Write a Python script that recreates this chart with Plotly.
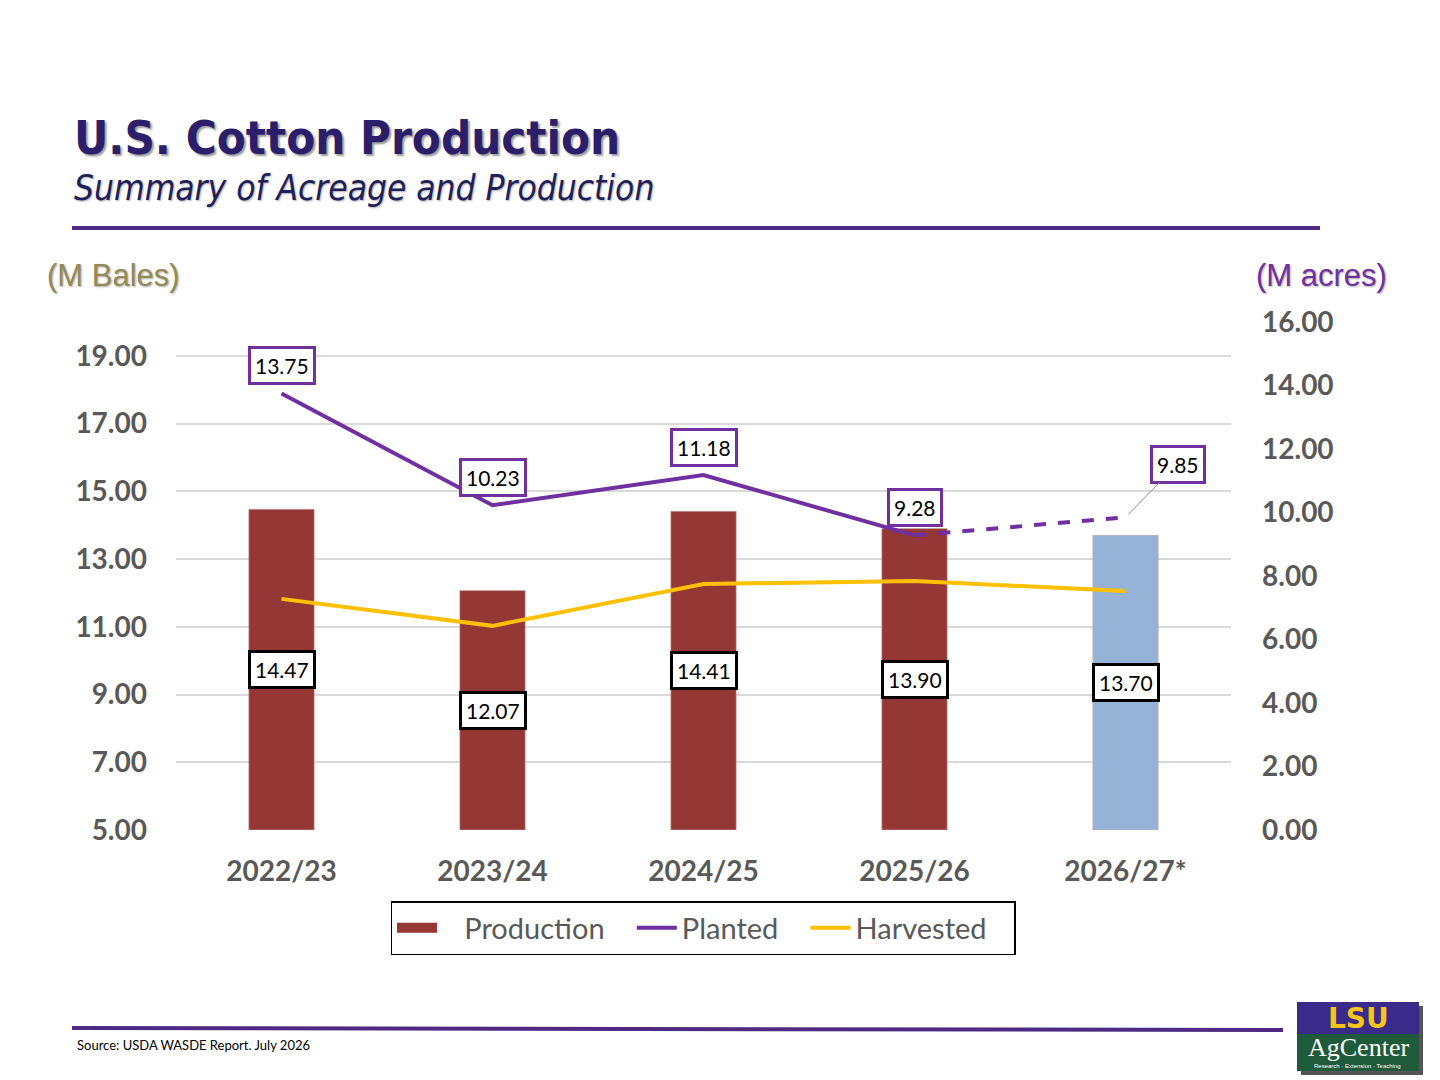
import plotly.graph_objects as go

categories = ["2022/23", "2023/24", "2024/25", "2025/26", "2026/27*"]
production = [14.47, 12.07, 14.41, 13.90, 13.70]
planted = [13.75, 10.23, 11.18, 9.28, 9.85]
harvested = [7.28, 6.43, 7.75, 7.84, 7.53]
left_ticks = [5, 7, 9, 11, 13, 15, 17, 19]
right_ticks = [0, 2, 4, 6, 8, 10, 12, 14, 16]

W, H = 1440, 1080
OFF = 8  # page body offset
RED = "#953735"
BLUE = "#95B3D7"
PURPLE = "#7030A0"
YELLOW = "#FFC000"
GRAY = "#595959"
NAVY = "#2B1F6B"
BASE = 5
NB = "\u00a0"

def px(x):
    return (x - OFF) / W

def py(y):
    return 1 - (y - OFF) / H

bar_colors = [RED] * (len(categories) - 1) + [BLUE]

fig = go.Figure()
fig.add_trace(go.Bar(
    x=categories, y=[v - BASE for v in production], base=BASE,
    name="Production", showlegend=False, legendgroup="prod",
    marker=dict(color=bar_colors, line=dict(color="rgba(200,170,170,0.6)", width=1)),
    width=0.31, yaxis="y", hoverinfo="skip",
))
# legend entry for the bars (wide rectangle swatch)
fig.add_trace(go.Scatter(
    x=[None], y=[None], name=NB * 3 + "Production" + NB * 3, mode="lines", legendgroup="prod",
    line=dict(color=RED, width=18), yaxis="y", hoverinfo="skip",
))
fig.add_trace(go.Scatter(
    x=categories[:-1], y=planted[:-1], name="Planted" + NB * 3, mode="lines",
    line=dict(color=PURPLE, width=4), yaxis="y2", legendgroup="plant",
))
fig.add_trace(go.Scatter(
    x=categories[-2:], y=planted[-2:], name="Planted (est.)", mode="lines", showlegend=False,
    line=dict(color=PURPLE, width=4, dash="dash"), yaxis="y2", legendgroup="plant",
))
fig.add_trace(go.Scatter(
    x=categories, y=harvested, name="Harvested" + NB * 3, mode="lines",
    line=dict(color=YELLOW, width=4), yaxis="y2",
))

annotations = []
label_font = dict(family="Lato, 'Open Sans', sans-serif", size=21, color="black")
for c, v in zip(categories, production):
    annotations.append(dict(
        x=c, y=(BASE + v) / 2, xref="x", yref="y", text=f"{v:.2f}", showarrow=False,
        font=label_font, bgcolor="white", bordercolor="black", borderwidth=3, borderpad=4,
    ))
for i, (c, v) in enumerate(zip(categories, planted)):
    if i < len(categories) - 1:
        annotations.append(dict(
            x=c, y=v, xref="x", yref="y2", text=f"{v:.2f}", showarrow=False, yshift=28,
            font=label_font, bgcolor="white", bordercolor=PURPLE, borderwidth=3, borderpad=4,
        ))
    else:
        annotations.append(dict(
            x=c, y=v, xref="x", yref="y2", text=f"{v:.2f}", showarrow=True,
            ax=52, ay=-53, arrowhead=0, arrowwidth=1, arrowcolor="#8c8c8c", standoff=4,
            font=label_font, bgcolor="white", bordercolor=PURPLE, borderwidth=3, borderpad=4,
        ))

TITLE_FAM = "Tahoma, 'DejaVu Sans Condensed', 'DejaVu Sans', sans-serif"
annotations += [
    dict(x=px(72), y=py(138), xref="paper", yref="paper", xanchor="left", yanchor="middle",
         text="<b>U.S. Cotton Production</b>", showarrow=False,
         font=dict(family=TITLE_FAM, size=47, color=NAVY, shadow="2px 2px 2px #9a9a9a")),
    dict(x=px(72), y=py(188), xref="paper", yref="paper", xanchor="left", yanchor="middle",
         text="<i>Summary of Acreage and Production</i>", showarrow=False,
         font=dict(family=TITLE_FAM, size=35, color="#1F1F5A", shadow="1px 1px 2px #aaaaaa")),
    dict(x=px(45), y=py(275), xref="paper", yref="paper", xanchor="left", yanchor="middle",
         text="(M Bales)", showarrow=False,
         font=dict(family="'Liberation Sans', Arial, sans-serif", size=31, color="#948A54",
                   shadow="1px 1px 2px #aaaaaa")),
    dict(x=px(1389), y=py(275), xref="paper", yref="paper", xanchor="right", yanchor="middle",
         text="(M acres)", showarrow=False,
         font=dict(family="'Liberation Sans', Arial, sans-serif", size=31, color=PURPLE,
                   shadow="1px 1px 2px #aaaaaa")),
    dict(x=px(75), y=py(1045), xref="paper", yref="paper", xanchor="left", yanchor="middle",
         text="Source: USDA WASDE Report. July 2026", showarrow=False,
         font=dict(family="Lato, 'Open Sans', sans-serif", size=13, color="black")),
    dict(x=px(1358), y=py(1018), xref="paper", yref="paper", xanchor="center", yanchor="middle",
         text="<b>LSU</b>", showarrow=False,
         font=dict(family="'DejaVu Sans', sans-serif", size=28, color="#F5C518")),
    dict(x=px(1358), y=py(1047), xref="paper", yref="paper", xanchor="center", yanchor="middle",
         text="AgCenter", showarrow=False,
         font=dict(family="'Liberation Serif', serif", size=26, color="white")),
    dict(x=px(1357), y=py(1066), xref="paper", yref="paper", xanchor="center", yanchor="middle",
         text="Research · Extension · Teaching", showarrow=False,
         font=dict(family="'Liberation Sans', sans-serif", size=6, color="white")),
]

shapes = [
    dict(type="line", xref="paper", yref="paper", x0=px(72), x1=px(1320), y0=py(228), y1=py(228),
         line=dict(color="#4E2A84", width=4)),
    dict(type="line", xref="paper", yref="paper", x0=px(72), x1=px(1283), y0=py(1028), y1=py(1030),
         line=dict(color="#4E2A84", width=4)),
    dict(type="rect", xref="paper", yref="paper", x0=px(1301), x1=px(1423), y0=py(1006), y1=py(1075),
         fillcolor="#555555", line=dict(width=0)),
    dict(type="rect", xref="paper", yref="paper", x0=px(1297), x1=px(1419), y0=py(1002), y1=py(1034),
         fillcolor="#3A2A8A", line=dict(width=0)),
    dict(type="rect", xref="paper", yref="paper", x0=px(1297), x1=px(1419), y0=py(1034), y1=py(1071),
         fillcolor="#1F5B3A", line=dict(width=0)),
]

axis_font = dict(family="Lato, 'Open Sans', sans-serif", size=28, color=GRAY, weight="bold")

fig.update_layout(
    width=W, height=H, autosize=False,
    margin=dict(l=0, r=0, t=0, b=0, pad=0, autoexpand=False),
    paper_bgcolor="white", plot_bgcolor="white",
    bargap=0.69,
    xaxis=dict(domain=[px(176), px(1231)], tickfont=axis_font, showgrid=False, showline=False,
               ticks="", ticklabelstandoff=22, anchor="y", automargin=False),
    yaxis=dict(range=[5, 20], tickvals=left_ticks, tickformat=".2f", tickfont=axis_font,
               showgrid=True, gridcolor="#D9D9D9", gridwidth=1.5, zeroline=False, showline=False,
               domain=[py(830), py(322)], ticks="", ticklabelstandoff=28, automargin=False),
    yaxis2=dict(range=[0, 16], tickvals=right_ticks, tickformat=".2f", tickfont=axis_font,
                overlaying="y", side="right", showgrid=False, zeroline=False, showline=False,
                ticks="", ticklabelstandoff=30, automargin=False),
    legend=dict(orientation="h", x=px(703), y=py(928), xanchor="center", yanchor="middle",
                bordercolor="black", borderwidth=1.5, bgcolor="white",
                font=dict(family="Lato, 'Open Sans', sans-serif", size=29, color=GRAY),
                itemwidth=40, traceorder="normal"),
    annotations=annotations, shapes=shapes,
    showlegend=True,
)

fig.write_html("out.html")
